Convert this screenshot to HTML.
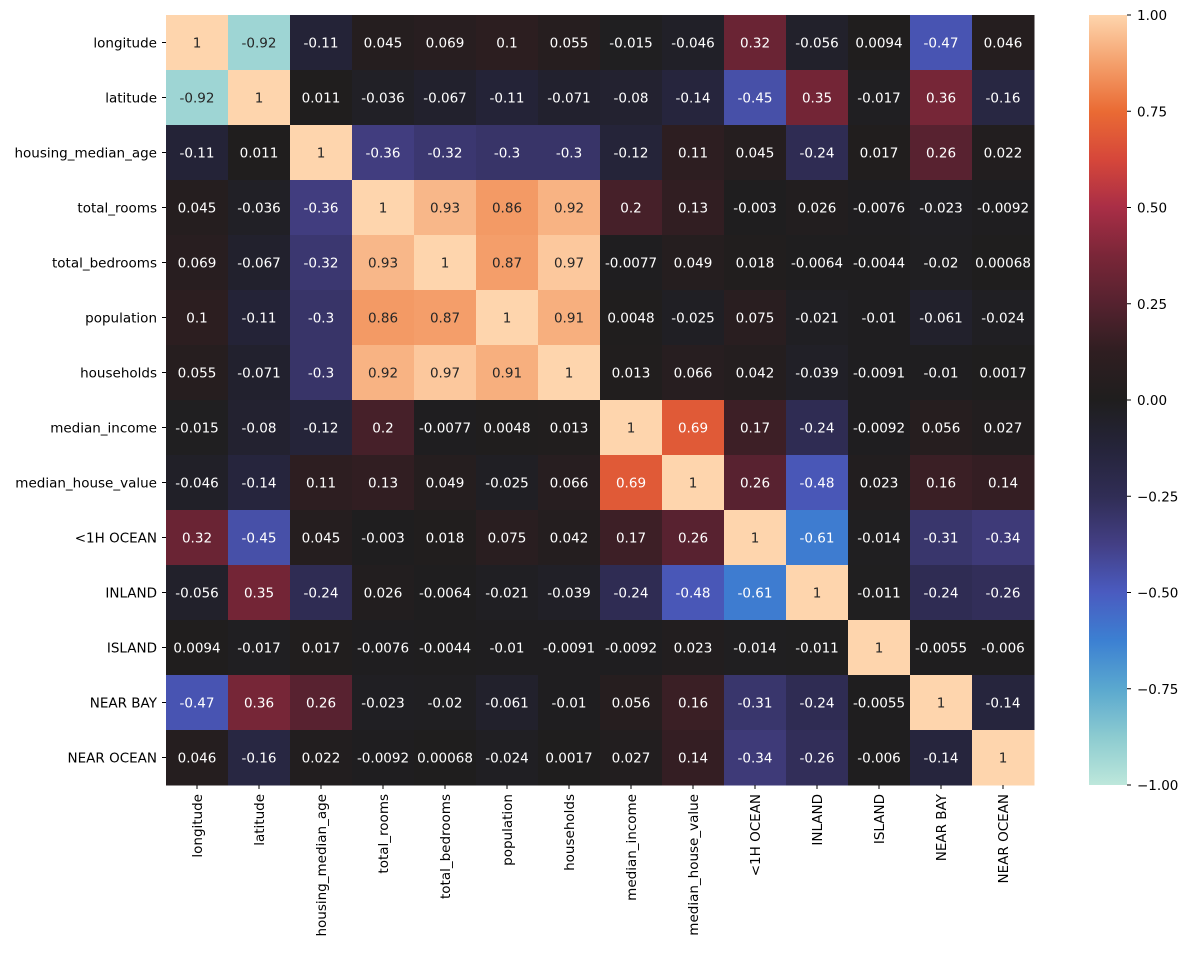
<!DOCTYPE html><html><head><style>
body{margin:0;background:#fff;width:1189px;height:951px;overflow:hidden;font-family:"DejaVu Sans","Liberation Sans",sans-serif}
</style></head><body>
<svg id="s" width="1189" height="951" xmlns="http://www.w3.org/2000/svg" font-family="DejaVu Sans, Liberation Sans, sans-serif" font-size="13.5">
<defs><linearGradient id="cb" x1="0" y1="1" x2="0" y2="0"></linearGradient></defs>
</svg>
<script>
const labels=["longitude","latitude","housing_median_age","total_rooms","total_bedrooms","population","households","median_income","median_house_value","<1H OCEAN","INLAND","ISLAND","NEAR BAY","NEAR OCEAN"];
const D=[
["1","-0.92","-0.11","0.045","0.069","0.1","0.055","-0.015","-0.046","0.32","-0.056","0.0094","-0.47","0.046"],
["-0.92","1","0.011","-0.036","-0.067","-0.11","-0.071","-0.08","-0.14","-0.45","0.35","-0.017","0.36","-0.16"],
["-0.11","0.011","1","-0.36","-0.32","-0.3","-0.3","-0.12","0.11","0.045","-0.24","0.017","0.26","0.022"],
["0.045","-0.036","-0.36","1","0.93","0.86","0.92","0.2","0.13","-0.003","0.026","-0.0076","-0.023","-0.0092"],
["0.069","-0.067","-0.32","0.93","1","0.87","0.97","-0.0077","0.049","0.018","-0.0064","-0.0044","-0.02","0.00068"],
["0.1","-0.11","-0.3","0.86","0.87","1","0.91","0.0048","-0.025","0.075","-0.021","-0.01","-0.061","-0.024"],
["0.055","-0.071","-0.3","0.92","0.97","0.91","1","0.013","0.066","0.042","-0.039","-0.0091","-0.01","0.0017"],
["-0.015","-0.08","-0.12","0.2","-0.0077","0.0048","0.013","1","0.69","0.17","-0.24","-0.0092","0.056","0.027"],
["-0.046","-0.14","0.11","0.13","0.049","-0.025","0.066","0.69","1","0.26","-0.48","0.023","0.16","0.14"],
["0.32","-0.45","0.045","-0.003","0.018","0.075","0.042","0.17","0.26","1","-0.61","-0.014","-0.31","-0.34"],
["-0.056","0.35","-0.24","0.026","-0.0064","-0.021","-0.039","-0.24","-0.48","-0.61","1","-0.011","-0.24","-0.26"],
["0.0094","-0.017","0.017","-0.0076","-0.0044","-0.01","-0.0091","-0.0092","0.023","-0.014","-0.011","1","-0.0055","-0.006"],
["-0.47","0.36","0.26","-0.023","-0.02","-0.061","-0.01","0.056","0.16","-0.31","-0.24","-0.0055","1","-0.14"],
["0.046","-0.16","0.022","-0.0092","0.00068","-0.024","0.0017","0.027","0.14","-0.34","-0.26","-0.006","-0.14","1"]];
const stops=[[-1,"#bde7db"],[-0.875,"#8ccbd0"],[-0.75,"#5aa8cf"],[-0.625,"#3c80d2"],[-0.5,"#4a5bc0"],[-0.375,"#433f85"],[-0.25,"#302d55"],[-0.125,"#25243a"],[0,"#1f1e1e"],[0.125,"#2f1e21"],[0.25,"#55222f"],[0.375,"#7a2638"],[0.5,"#a92e46"],[0.625,"#d6473a"],[0.75,"#ea6b34"],[0.875,"#f4a06c"],[1,"#fed5ad"]];
function hx(h){return [1,3,5].map(i=>parseInt(h.substr(i,2),16))}
function col(v){for(let i=0;i<stops.length-1;i++){const[a,ca]=stops[i],[b,cb]=stops[i+1];if(v<=b){const t=(v-a)/(b-a),A=hx(ca),B=hx(cb);return A.map((x,k)=>Math.round(x+(B[k]-x)*t))}}return hx(stops[stops.length-1][1])}
const s=document.getElementById('s');let h='';
const X0=166,Y0=15,W=62,H=55;
for(let r=0;r<14;r++)for(let c=0;c<14;c++){const v=parseFloat(D[r][c]);const C=col(v);
const dark=(v>0.8||v<-0.8);
h+=`<rect x="${X0+c*W}" y="${Y0+r*H}" width="${W+0.5}" height="${H+0.5}" fill="rgb(${C})"/>`;
h+=`<text x="${X0+c*W+W/2}" y="${Y0+r*H+H/2+5}" text-anchor="middle" fill="${dark?'#262626':'#fff'}">${D[r][c]}</text>`;}
for(let i=0;i<14;i++){const y=Y0+i*H+H/2;h+=`<line x1="${X0-4}" x2="${X0}" y1="${y}" y2="${y}" stroke="#000"/><text x="${X0-9}" y="${y+5}" text-anchor="end">${labels[i].replace('<','&lt;')}</text>`;
const x=X0+i*W+W/2;h+=`<line x1="${x}" x2="${x}" y1="785" y2="789" stroke="#000"/><text transform="translate(${x+5},${794}) rotate(-90)" text-anchor="end">${labels[i].replace('<','&lt;')}</text>`;}
let g='';stops.forEach(([v,c])=>g+=`<stop offset="${(v+1)/2}" stop-color="${c}"/>`);
h+=`<rect x="1089" y="15" width="38" height="770" fill="url(#cb)"/>`;
for(let k=0;k<9;k++){const v=1-k*0.25;const y=15+k*770/8;h+=`<line x1="1127" x2="1131" y1="${y}" y2="${y}" stroke="#000"/><text x="1137" y="${y+5}">${(v<0?'−':'')+Math.abs(v).toFixed(2)}</text>`;}
s.innerHTML+=h;document.getElementById('cb').innerHTML=g;
</script></body></html>
